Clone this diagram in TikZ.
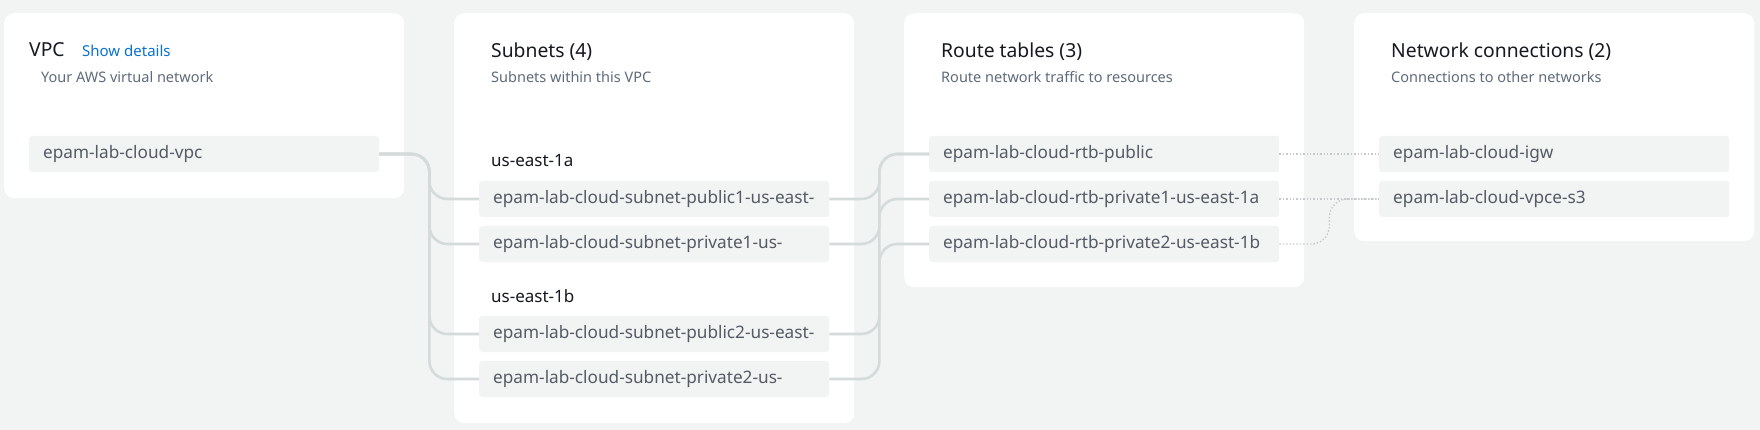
\documentclass[tikz,border=0pt]{standalone}
\usepackage{fontspec}
\setmainfont{Noto Sans}
\definecolor{bgc}{HTML}{F2F3F3}
\definecolor{nodec}{HTML}{F2F3F3}
\definecolor{nodetxt}{HTML}{545B64}
\definecolor{headc}{HTML}{16191F}
\definecolor{subc}{HTML}{5F6B7A}
\definecolor{linkc}{HTML}{0972D3}
\definecolor{connc}{HTML}{D5DBDB}
\definecolor{dotc}{HTML}{C6CACC}
\newcommand{\itemtext}[1]{\makebox[322pt][l]{#1}}
\tikzset{
  panel/.style={fill=white, rounded corners=10pt, anchor=north west, minimum width=400pt, inner sep=0pt},
  item/.style={fill=nodec, rounded corners=3pt, anchor=west, inner xsep=14pt, inner ysep=0pt, minimum width=350pt, minimum height=36pt, text=nodetxt, font=\fontsize{17.2}{20}\selectfont},
  heading/.style={anchor=base west, inner sep=0pt, text=headc, font=\fontsize{19.3}{23}\selectfont},
  subtitle/.style={anchor=base west, inner sep=0pt, text=subc, font=\fontsize{14.5}{17}\selectfont},
  zone/.style={anchor=base west, inner sep=0pt, text=headc, font=\fontsize{17}{20}\selectfont},
  linktext/.style={anchor=base west, inner sep=0pt, text=linkc, font=\fontsize{15}{17}\selectfont\bfseries},
  conn/.style={draw=connc, line width=2.6pt, rounded corners=18pt},
  dotconn/.style={draw=dotc, line width=1.4pt, dash pattern=on 1.4pt off 2pt, rounded corners=18pt}
}
\begin{document}
\begin{tikzpicture}[x=1pt,y=-1pt]
\fill[bgc] (0,0) rectangle (1760,430);
\useasboundingbox (0,0) rectangle (1760,430);
% panels
\node[panel, minimum height=185pt] (pvpc) at (4,13) {};
\node[panel, minimum height=410pt] (psub) at (454,13) {};
\node[panel, minimum height=274pt] (prt) at (904,13) {};
\node[panel, minimum height=228pt] (pnet) at (1354,13) {};
% titles
\node[heading] (tvpc) at (29,57) {VPC};
\node[linktext] (show) at (82,57) {Show details};
\node[subtitle] (svpc) at (41,83) {Your AWS virtual network};
\node[heading] (tsub) at (491,58) {Subnets (4)};
\node[subtitle] (ssub) at (491,83) {Subnets within this VPC};
\node[heading] (trt) at (941,58) {Route tables (3)};
\node[subtitle] (srt) at (941,83) {Route network traffic to resources};
\node[heading] (tnet) at (1391,58) {Network connections (2)};
\node[subtitle] (snet) at (1391,83) {Connections to other networks};
\node[zone] (za) at (491,167) {us-east-1a};
\node[zone] (zb) at (491,302) {us-east-1b};
% items
\node[item] (vpc) at (29,154) {\itemtext{epam-lab-cloud-vpc}};
\node[item] (s1) at (479,199) {\itemtext{epam-lab-cloud-subnet-public1-us-east-}};
\node[item] (s2) at (479,244) {\itemtext{epam-lab-cloud-subnet-private1-us-}};
\node[item] (s3) at (479,334) {\itemtext{epam-lab-cloud-subnet-public2-us-east-}};
\node[item] (s4) at (479,379) {\itemtext{epam-lab-cloud-subnet-private2-us-}};
\node[item] (r1) at (929,154) {\itemtext{epam-lab-cloud-rtb-public}};
\node[item] (r2) at (929,199) {\itemtext{epam-lab-cloud-rtb-private1-us-east-1a}};
\node[item] (r3) at (929,244) {\itemtext{epam-lab-cloud-rtb-private2-us-east-1b}};
\node[item] (n1) at (1379,154) {\itemtext{epam-lab-cloud-igw}};
\node[item] (n2) at (1379,199) {\itemtext{epam-lab-cloud-vpce-s3}};
% connectors VPC -> subnets
\draw[conn] (vpc.east) -- ++(50,0) |- (s1.west);
\draw[conn] (vpc.east) -- ++(50,0) |- (s2.west);
\draw[conn] (vpc.east) -- ++(50,0) |- (s3.west);
\draw[conn] (vpc.east) -- ++(50,0) |- (s4.west);
% subnets -> route tables
\draw[conn] (s1.east) -- ++(50,0) |- (r1.west);
\draw[conn] (s3.east) -- ++(50,0) |- (r1.west);
\draw[conn] (s2.east) -- ++(50,0) |- (r2.west);
\draw[conn] (s4.east) -- ++(50,0) |- (r3.west);
% route tables -> network connections
\draw[dotconn] (r1.east) -- (n1.west);
\draw[dotconn] (r2.east) -- (n2.west);
\draw[dotconn] (r3.east) -- ++(50,0) |- (n2.west);
\end{tikzpicture}
\end{document}
